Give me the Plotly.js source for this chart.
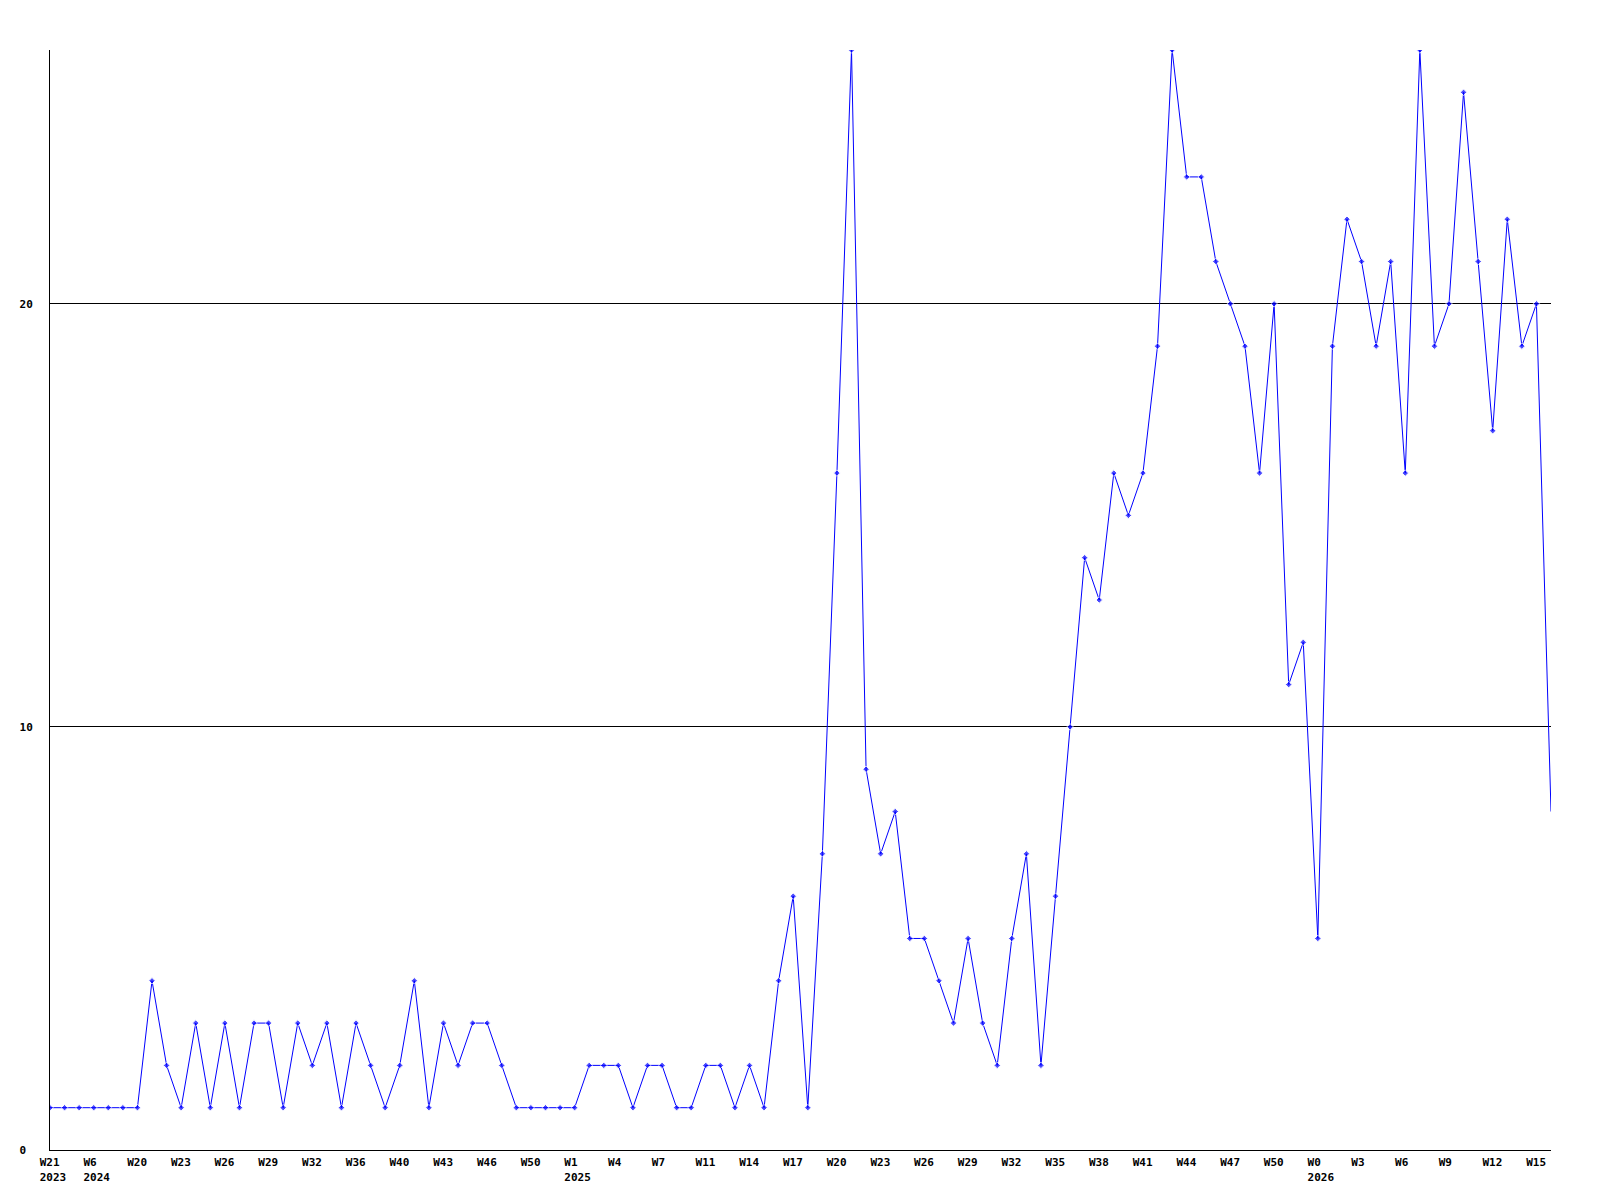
<!DOCTYPE html>
<html>
<head>
<meta charset="utf-8">
<script src="https://cdn.plot.ly/plotly-3.0.1.min.js"></script>
<style>
  html, body { margin: 0; padding: 0; background: #ffffff; }
  #chart { width: 1600px; height: 1200px; }
</style>
</head>
<body>
<div id="chart"></div>
<script>
// Weekly counts, one value per plotted point (left to right)
const values = [
  1,1,1,1,1,1,1,4,2,1,
  3,1,3,1,3,3,1,3,2,3,
  1,3,2,1,2,4,1,3,2,3,
  3,2,1,1,1,1,1,2,2,2,
  1,2,2,1,1,2,2,1,2,1,
  4,6,1,7,16,26,9,7,8,5,
  5,4,3,5,3,2,5,7,2,6,
  10,14,13,16,15,16,19,26,23,23,
  21,20,19,16,20,11,12,5,19,22,
  21,19,21,16,26,19,20,25,21,17,
  22,19,20,8
];

// X tick labels, shown on every third point
const weekLabels = [
  "W21","W6","W20","W23","W26","W29","W32","W36","W40","W43","W46","W50",
  "W1","W4","W7","W11","W14","W17","W20","W23","W26","W29","W32","W35",
  "W38","W41","W44","W47","W50","W0","W3","W6","W9","W12","W15"
];
const yearLabels = [
  "2023","2024","","","","","","","","","","",
  "2025","","","","","","","","","","","",
  "","","","","","2026","","","","",""
];
const labelStep = 3;

// Y tick labels
const yTickValues = [0, 10, 20];
const yTickLabels = ["0\u00A0", "10", "20"];

const NB = "\u00A0";
function pad4(s) { while (s.length < 4) s += NB; return s; }

const xIdx = values.map((_, i) => i);
const tickvals = weekLabels.map((_, i) => i * labelStep);
const ticktext = weekLabels.map((w, i) =>
  yearLabels[i] ? pad4(w) + "<br>" + pad4(yearLabels[i]) : pad4(w));

// the last point sits on the plot edge and shows no marker
const markerSizes = values.map((_, i) => (i === values.length - 1 ? 0 : 5));

const trace = {
  x: xIdx,
  y: values,
  type: "scatter",
  mode: "lines+markers",
  line: { color: "#0000ff", width: 1 },
  marker: { color: "#0000ff", size: markerSizes, symbol: "diamond" },
  hoverinfo: "skip"
};

const font = { family: "DejaVu Sans Mono, Liberation Mono, monospace", size: 11, color: "#000000", weight: "bold" };

const layout = {
  width: 1600,
  height: 1200,
  margin: { l: 50, r: 49, t: 50, b: 50, pad: 0 },
  paper_bgcolor: "#ffffff",
  plot_bgcolor: "#ffffff",
  showlegend: false,
  font: font,
  xaxis: {
    range: [0, values.length - 1],
    tickmode: "array",
    tickvals: tickvals,
    ticktext: ticktext,
    tickangle: 0,
    showgrid: false,
    zeroline: false,
    showline: true,
    linecolor: "#000000",
    linewidth: 1,
    ticks: "outside",
    ticklen: 2,
    tickcolor: "rgba(0,0,0,0)",
    ticklabelshift: 3,
    tickfont: font,
    fixedrange: true
  },
  yaxis: {
    range: [0, 26],
    tickmode: "array",
    tickvals: yTickValues,
    ticktext: yTickLabels,
    showgrid: true,
    gridcolor: "#000000",
    gridwidth: 1,
    zeroline: false,
    showline: true,
    linecolor: "#000000",
    linewidth: 1,
    ticks: "outside",
    ticklen: 14,
    tickcolor: "rgba(0,0,0,0)",
    tickfont: font,
    fixedrange: true
  }
};

Plotly.newPlot("chart", [trace], layout, { displayModeBar: false, staticPlot: true });
</script>
</body>
</html>
